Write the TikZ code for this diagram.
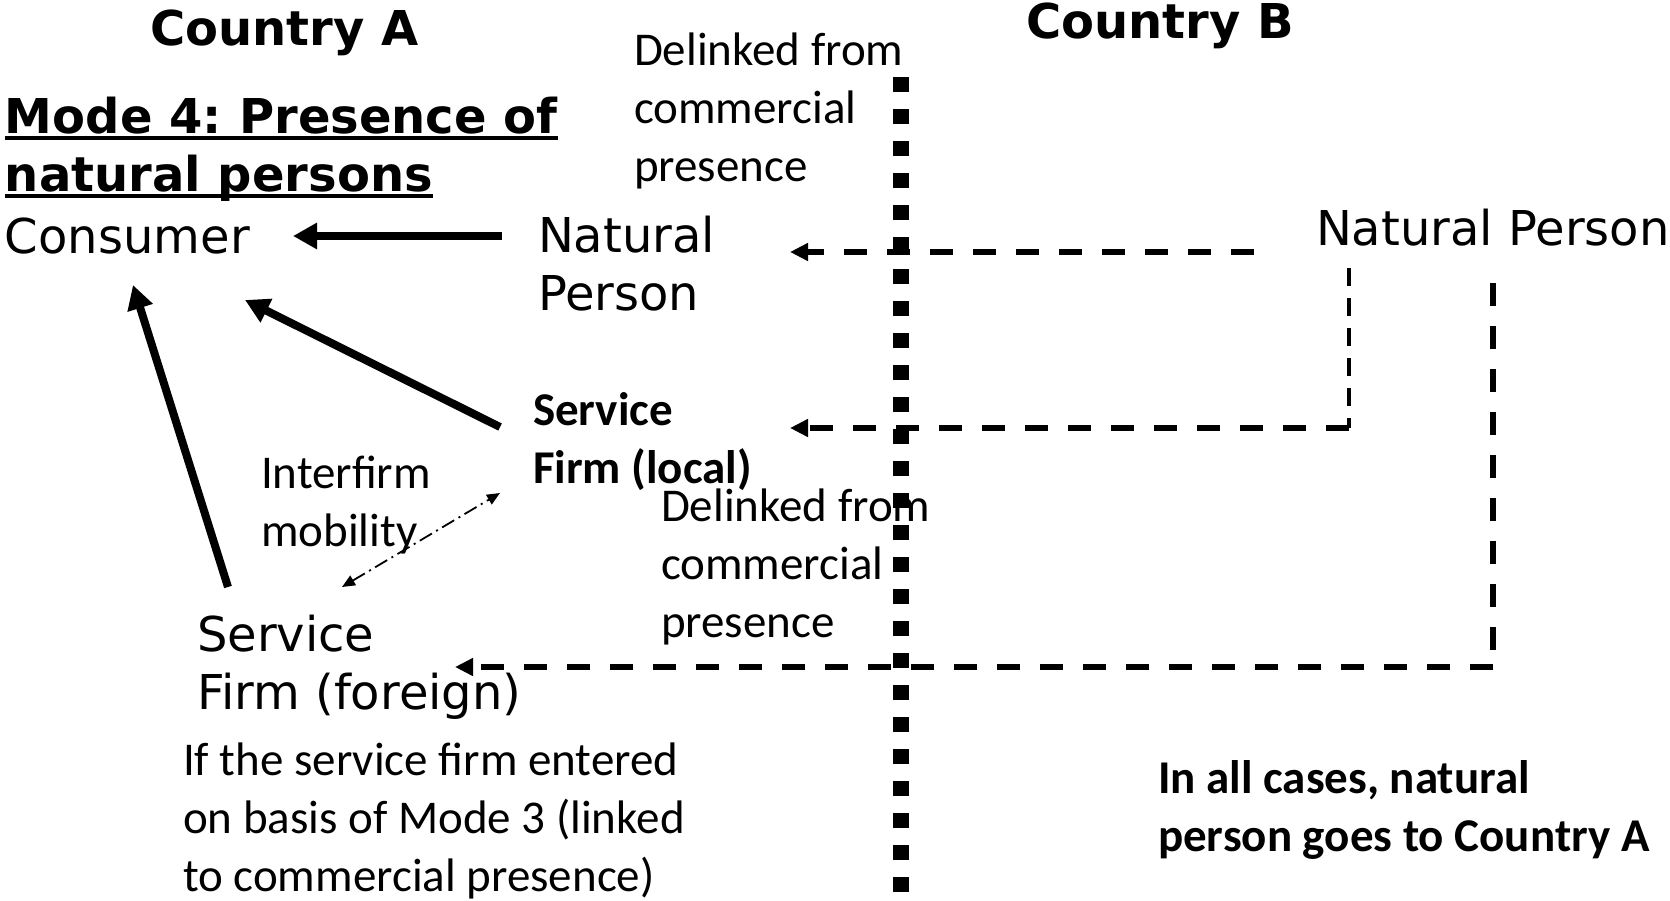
\documentclass[tikz,border=0pt]{standalone}
\usepackage{fontspec}
\setmainfont{DejaVu Sans}
\newfontfamily\calfont{Carlito}
\usetikzlibrary{arrows.meta}
\newcommand\mlines[1]{\begin{tabular}[t]{@{}l@{}}#1\end{tabular}}
\newcommand\myul[1]{\setbox0=\hbox{#1}\rlap{\vrule width\wd0 height-3pt depth7pt}\box0}
\begin{document}
\begin{tikzpicture}[x=1pt,y=-1pt,
  every node/.style={inner sep=0pt,outer sep=0pt},
  verd/.style={font=\fontsize{48}{58}\selectfont},
  verdb/.style={font=\fontsize{48}{58}\selectfont\bfseries},
  cal/.style={font=\calfont\fontsize{47}{58}\selectfont},
  calb/.style={font=\calfont\bfseries\fontsize{47}{58}\selectfont},
  solidarrow/.style={line width=8pt,-{Triangle[length=24pt,width=25pt]}},
  dasharrow/.style={line width=5.5pt,dash pattern=on 23pt off 20pt,-{Triangle[length=18pt,width=17pt]}},
  thickdash/.style={line width=5.5pt,dash pattern=on 23pt off 20pt},
  thindash/.style={line width=4pt,dash pattern=on 18pt off 12pt},
  border/.style={line width=16pt,dash pattern=on 15pt off 17pt},
  mobility/.style={line width=1.8pt,dash pattern=on 14pt off 5pt on 2pt off 5pt,
    {Triangle[length=13pt,width=11pt]}-{Triangle[length=13pt,width=11pt]}}]
\useasboundingbox (0,0) rectangle (1670,900);

% texts
\node[verdb,anchor=base west] (cA) at (150,45) {Country A};
\node[verdb,anchor=base east] (cB) at (1294,38) {Country B};
\node[verdb,anchor=base west] (mode) at (5,133) {\mlines{\myul{Mode 4:\kern-5pt{} Presence of}\\\myul{natural persons}}};
\node[verd,anchor=base west] (cons) at (5,253) {Consumer};
\node[verd,anchor=base west] (npA) at (538,252) {\mlines{Natural\\Person}};
\node[verd,anchor=base west] (npB) at (1316,245) {Natural Person};
\node[verd,anchor=base west] (sff) at (197,651) {\mlines{Service\\Firm (foreign)}};
\node[cal,anchor=base west] (del1) at (634,65) {\mlines{Delinked from\\commercial\\presence}};
\node[cal,anchor=base west] (del2) at (661,521) {\mlines{Delinked from\\commercial\\presence}};
\node[calb,anchor=base west] (sfl) at (533,425) {\mlines{Service\\Firm (local)}};
\node[cal,anchor=base west] (inter) at (261,488) {\mlines{Interfirm\\mobility}};
\node[cal,anchor=base west] (note) at (183,775) {\mlines{If the service firm entered\\on basis of Mode 3 (linked\\to commercial presence)}};
\node[calb,anchor=base west] (allc) at (1158,793) {\mlines{In all cases, natural\\person goes to Country A}};

% connector end points
\coordinate (npAout) at (502,236);
\coordinate (consR) at (293,236);
\coordinate (sflout) at (500,427);
\coordinate (consRB) at (245,300);
\coordinate (sffout) at (228,587);
\coordinate (consB) at (133,285);
\coordinate (sffmob) at (342,587);
\coordinate (sflmob) at (500,493);
\coordinate (npBa) at (1254,252);
\coordinate (npAin) at (790,252);
\coordinate (npBb) at (1349,268);
\coordinate (cornerb) at (1349,428);
\coordinate (sflin) at (790,428);
\coordinate (npBc) at (1493,283);
\coordinate (cornerc) at (1493,667);
\coordinate (sffin) at (455,667);
\coordinate (bordertop) at (901,77);
\coordinate (borderbot) at (901,893);

% border between countries
\draw[border] (bordertop) -- (borderbot);

% solid arrows in country A
\draw[solidarrow] (npAout) -- (consR);
\draw[solidarrow] (sflout) -- (consRB);
\draw[solidarrow] (sffout) -- (consB);
\draw[mobility] (sffmob) -- (sflmob);

% dashed movements from country B
\draw[dasharrow] (npBa) -- (npAin);
\draw[thindash] (npBb) -- (cornerb);
\draw[dasharrow] (cornerb) -- (sflin);
\draw[thickdash] (npBc) -- (cornerc);
\draw[dasharrow] (cornerc) -- (sffin);
\end{tikzpicture}
\end{document}
